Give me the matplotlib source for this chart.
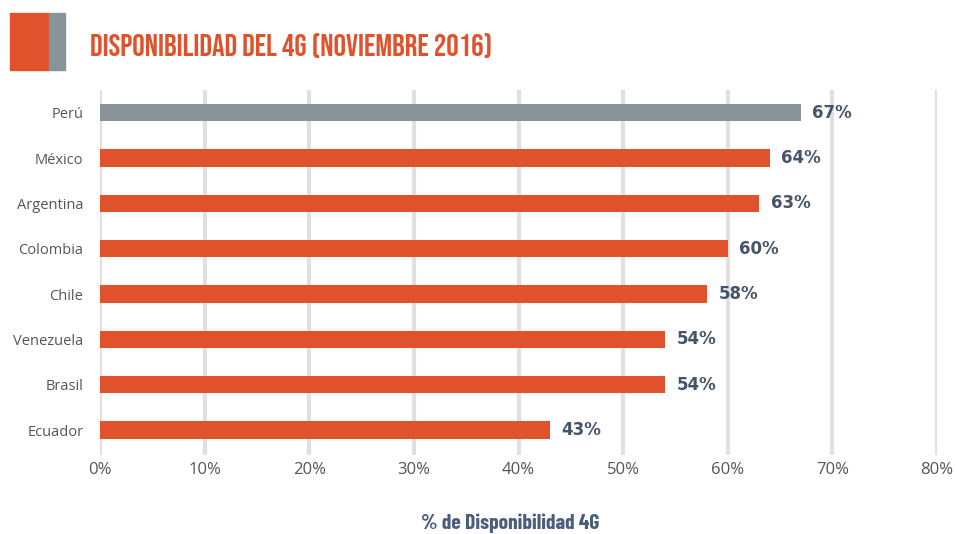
import matplotlib.pyplot as plt
from matplotlib.patches import Rectangle

countries = ["Perú", "México", "Argentina", "Colombia", "Chile", "Venezuela", "Brasil", "Ecuador"]
values = [67, 64, 63, 60, 58, 54, 54, 43]
xticks = [0, 10, 20, 30, 40, 50, 60, 70, 80]

ORANGE = "#E0522B"
GRAY = "#87959A"
LABEL = "#44546A"
TITLE_FONT = ["Bebas Neue", "Barlow Condensed", "DejaVu Sans"]
NARROW = ["Barlow Condensed", "DejaVu Sans"]
BODY = ["Open Sans", "DejaVu Sans"]


def main():
    fig = plt.figure(figsize=(9.57, 5.34), dpi=100)
    ax = fig.add_axes([100 / 957, 1 - 455 / 534, 837 / 957, 365 / 534])

    colors = [GRAY] + [ORANGE] * (len(values) - 1)
    ypos = list(range(len(countries)))
    ax.barh(ypos, values, height=0.38, color=colors, zorder=3)

    for y, v in zip(ypos, values):
        ax.text(v + 1.1, y, f"{v}%", va="center", ha="left", fontsize=12,
                fontweight="bold", family="DejaVu Sans",
                color=LABEL, zorder=4)

    ax.set_xlim(0, 80)
    ax.set_ylim(7.55, -0.5)
    ax.set_yticks(ypos)
    ax.set_yticklabels(countries, fontsize=10.5, color="#555555", family=BODY,
                       fontstretch="normal")
    ax.set_xticks(xticks)
    ax.set_xticklabels([f"{t}%" for t in xticks], fontsize=12, color="#555555",
                       family=BODY, fontstretch="normal")
    ax.tick_params(length=0)
    ax.tick_params(axis="y", pad=12)
    ax.tick_params(axis="x", pad=5)
    ax.grid(axis="x", color="#E0E0E0", linewidth=3, zorder=0)
    for s in ax.spines.values():
        s.set_visible(False)

    fig.text(510 / 957, 1 - 523 / 534, "% de Disponibilidad 4G", family=NARROW,
             fontsize=15.5, fontweight="bold", color="#4A5E7A",
             ha="center", va="center")

    # header decoration
    fig.patches.append(Rectangle((10 / 957, 1 - 70 / 534), 39 / 957, 57 / 534,
                                 transform=fig.transFigure, color=ORANGE))
    fig.patches.append(Rectangle((49 / 957, 1 - 70 / 534), 16 / 957, 57 / 534,
                                 transform=fig.transFigure, color=GRAY))
    fig.text(90 / 957, 1 - 46 / 534, "DISPONIBILIDAD DEL 4G (NOVIEMBRE 2016)",
             family=TITLE_FONT, fontsize=22.5,
             color=ORANGE, va="center", ha="left")

    fig.savefig("out.png", dpi=100)


if __name__ == "__main__":
    main()
